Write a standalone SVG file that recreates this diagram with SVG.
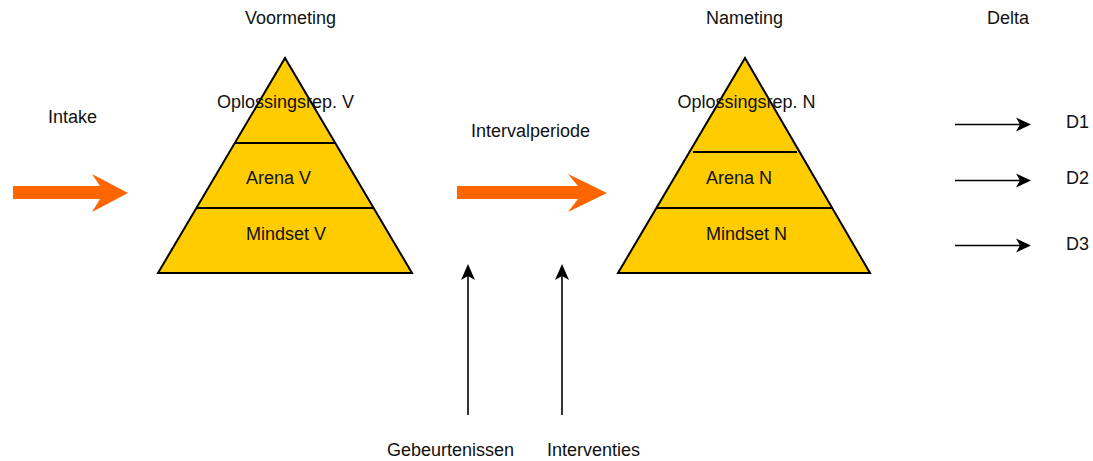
<svg xmlns="http://www.w3.org/2000/svg" width="1093" height="461" viewBox="0 0 1093 461">
  <style>
    text { font-family: "Liberation Sans", Arial, sans-serif; font-size: 18px; fill: #111; }
    .pyr { fill: #FFCC00; stroke: #000; stroke-width: 2; stroke-linejoin: miter; }
    .div { stroke: #000; stroke-width: 2; }
    .flow { fill: #FF6600; stroke: none; }
    .thin { stroke: #000; stroke-width: 1.6; fill: none; }
    .head { fill: #000; stroke: none; }
  </style>

  <!-- column headings -->
  <g id="headings">
    <text x="245" y="24">Voormeting</text>
    <text x="706" y="24">Nameting</text>
    <text x="987" y="24">Delta</text>
  </g>

  <!-- entry -->
  <g id="intake">
    <text x="48" y="123">Intake</text>
  </g>

  <!-- pre-measurement pyramid -->
  <g id="pyramid-v">
    <polygon class="pyr" points="285,58 158,273 412,273"/>
    <line class="div" x1="234" y1="143" x2="335" y2="143"/>
    <line class="div" x1="197" y1="208" x2="373" y2="208"/>
    <text x="285.5" y="108" text-anchor="middle">Oplossingsrep. V</text>
    <text x="246" y="184">Arena V</text>
    <text x="246" y="240">Mindset V</text>
  </g>

  <!-- interval -->
  <g id="interval">
    <text x="471" y="137">Intervalperiode</text>
  </g>

  <!-- post-measurement pyramid -->
  <g id="pyramid-n">
    <polygon class="pyr" points="745,58 618,273 870,273"/>
    <line class="div" x1="693" y1="152" x2="797" y2="152"/>
    <line class="div" x1="657" y1="208" x2="833" y2="208"/>
    <text x="746.5" y="108" text-anchor="middle">Oplossingsrep. N</text>
    <text x="706" y="184">Arena N</text>
    <text x="706" y="240">Mindset N</text>
  </g>

  <!-- delta outputs -->
  <g id="delta">
    <text x="1066" y="128">D1</text>
    <text x="1066" y="184">D2</text>
    <text x="1066" y="250">D3</text>
  </g>

  <!-- influences -->
  <g id="gebeurtenissen">
    <text x="387" y="456">Gebeurtenissen</text>
  </g>
  <g id="interventies">
    <text x="547" y="456">Interventies</text>
  </g>

  <!-- connectors -->
  <g id="connectors">
    <!-- broad orange flow arrows -->
    <polygon class="flow" points="13,186 100,186 92,174 128,193 92,212 100,199 13,199"/>
    <polygon class="flow" points="457,186 578,186 568,174 607,193 568,212 578,199 457,199"/>

    <!-- delta arrows -->
    <line class="thin" x1="955" y1="124.5" x2="1020" y2="124.5"/>
    <path class="head" d="M1031,124.5 L1016,117.5 L1020,124.5 L1016,131.5 Z"/>
    <line class="thin" x1="955" y1="180.5" x2="1020" y2="180.5"/>
    <path class="head" d="M1031,180.5 L1016,173.5 L1020,180.5 L1016,187.5 Z"/>
    <line class="thin" x1="955" y1="245.5" x2="1020" y2="245.5"/>
    <path class="head" d="M1031,245.5 L1016,238.5 L1020,245.5 L1016,252.5 Z"/>

    <!-- upward influence arrows -->
    <line class="thin" x1="468" y1="415" x2="468" y2="275"/>
    <path class="head" d="M468,264 L461,280 L468,276 L475,280 Z"/>
    <line class="thin" x1="562" y1="415" x2="562" y2="275"/>
    <path class="head" d="M562,264 L555,280 L562,276 L569,280 Z"/>
  </g>
</svg>
